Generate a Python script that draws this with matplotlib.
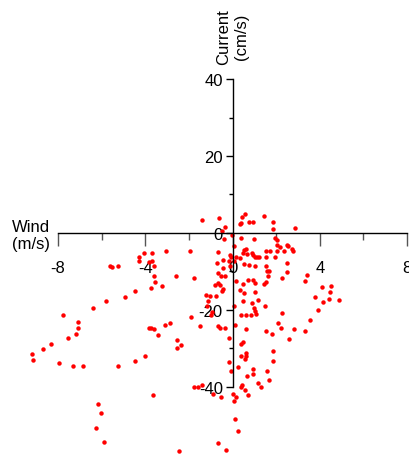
import matplotlib
matplotlib.use("Agg")
import matplotlib.pyplot as plt
from matplotlib.ticker import FixedLocator

plt.rcParams['font.family'] = ['Liberation Sans', 'DejaVu Sans']
plt.rcParams['axes.unicode_minus'] = False

# wind (m/s) vs current (cm/s)
wind = [
    -1.39, -0.61, -0.34, -0.46, 0.44, 0.57, 0.34, 0.37, 0.75, 0.95, 1.46, 1.87, 1.84, 2.85,
    -0.02, 0.41, 0.98, 1.93, 2.05, -0.40, 0.06,
    2.02, 2.18, 2.51, 2.54, 2.71, 2.77, 2.05, 2.36, 1.95,
    0.52, 0.63, 0.49, 0.67, 0.87, 0.93, 1.03, 1.10, 1.21, 1.52, 1.72, 1.52,
    -0.66, -0.12, -0.05, 0.14, 0.34, -0.18, 0.06,
    -1.93, -3.05, -4.05, -3.69, -4.29, -4.28, -3.85, -3.69, -3.62,
    -0.70, -0.44, -0.12, -0.43,
    0.52, 0.75, 1.01, 1.55,
    1.59, 1.67, 1.64, 1.55, 1.44, 2.48, 2.48, 2.28,
    -0.66, -0.35, -0.55,
    0.14, 0.48, 0.70, 0.93, 1.03, 0.32, 0.52, 1.03,
    -5.64, -5.53, -5.26,
    -3.62, -3.54, -3.72, -3.23, -4.46, -4.95, -5.79, -6.41, -7.75,
    -2.59, -1.75,
    3.33, 3.43,
    4.09, 4.51, 4.46, 4.17, 4.43, 4.89, 3.79, 3.94, 3.56, 3.33,
    -0.81, -0.67, -0.58, -0.44, -0.48,
    -1.20, -1.04, -0.74, -1.13, -1.16, -0.92, -0.97,
    1.15, 0.49, 0.90, 0.98, 1.03, 1.09, 1.47, 0.40, 0.60, 0.83, 0.09,
    2.28, 2.10, 2.24, 2.59, 2.82,
    1.55, 1.82, 1.87, 1.85, 1.59, 1.67, 1.32, 1.15,
    -1.90, -1.47, -0.66, -0.58, -0.35, -0.14, 0.11, 0.63,
    -3.85, -3.74, -3.62, -3.42, -3.11, -2.85,
    -2.54, -2.54, -2.38,
    -7.10, -7.07, -7.17, -7.56, -8.34, -8.67, -9.18, -9.13, -7.94, -7.30, -6.84, -5.23, -4.49, -4.03,
    0.48, 0.41, 0.37, 0.60, 0.63, 0.55,
    -0.14, -0.05, 0.26,
    0.93, 0.95, 0.67,
    0.43, 0.40, 0.57, 0.72,
    -1.78, -1.58, -1.39,
    -0.89, -0.55, 0.02, 0.14, 0.09,
    -3.63,
    -6.18, -6.02, -6.27, -5.87,
    -2.47, -0.67, -0.32,
    0.12, 0.25,
]
current = [
    3.4, 3.9, 1.6, 0.4, 4.2, 4.8, 2.3, 2.5, 2.8, 2.9, 4.4, 2.8, 1.0, 1.2,
    -0.6, -1.3, -1.6, -1.3, -1.7, -1.5, -3.5,
    -3.1, -3.6, -3.1, -3.5, -4.2, -4.8, -4.8, -4.8, -6.3,
    -4.3, -4.2, -5.3, -5.5, -5.3, -5.6, -6.3, -6.3, -6.3, -4.6, -4.8, -6.3,
    -5.0, -5.6, -6.3, -6.3, -6.6, -7.2, -7.4,
    -4.7, -4.8, -5.3, -5.3, -6.3, -7.4, -7.6, -7.4, -8.5,
    -7.9, -6.9, -8.5, -9.0,
    -8.1, -8.2, -8.5, -8.7,
    -9.8, -10.0, -11.1, -12.8, -13.2, -7.8, -10.2, -11.7,
    -10.4, -11.1, -11.1,
    -12.4, -13.2, -12.2, -12.2, -13.0, -14.7, -15.6, -15.4,
    -8.5, -8.9, -8.5,
    -11.1, -12.8, -14.4, -13.9, -15.2, -16.7, -17.7, -19.5, -21.3,
    -11.1, -11.7,
    -12.4, -10.8,
    -14.1, -13.7, -15.4, -18.0, -17.1, -17.3, -16.7, -20.1, -22.7, -25.4,
    -13.5, -13.0, -13.5, -14.5, -15.2,
    -16.0, -16.3, -16.3, -17.7, -19.0, -20.6, -21.2,
    -17.4, -17.6, -18.3, -19.6, -20.2, -21.0, -18.9, -21.3, -21.3, -21.3, -19.0,
    -20.9, -23.4, -24.7, -27.5, -24.9,
    -25.4, -26.2, -30.7, -33.4, -35.9, -38.2, -40.1, -39.0,
    -21.9, -24.1, -24.1, -24.7, -24.7, -27.4, -23.9, -24.9,
    -24.8, -24.8, -24.9, -26.4, -23.9, -23.5,
    -27.7, -29.9, -29.0,
    -23.2, -24.8, -26.2, -27.4, -28.8, -30.1, -31.4, -32.9, -33.9, -34.5, -34.7, -34.5, -33.4, -32.0,
    -28.4, -28.8, -31.9, -31.2, -31.9, -32.7,
    -33.6, -35.8, -34.9,
    -35.3, -36.6, -37.3,
    -39.4, -39.9, -40.8, -42.0,
    -39.9, -40.1, -39.5,
    -41.8, -42.7, -41.8, -42.5, -43.7,
    -42.0,
    -44.4, -46.8, -50.6, -54.2,
    -56.7, -54.5, -56.5,
    -48.3, -51.5,
]

x_major = [-8, -4, 0, 4, 8]
x_minor = [-6, -2, 2, 6]
y_major = [-40, -20, 0, 20, 40]
y_minor = [-30, -10, 10, 30]

fig = plt.figure(figsize=(4.09, 4.56), dpi=100)
ax = fig.add_axes([0, 0, 1, 1])
ax.patch.set_alpha(0)

ax.plot(wind, current, 'o', color='#ff0000', ms=3.2, mew=0)

ax.set_xlim(-10.66, 8.09)
ax.set_ylim(-57.7, 60.8)

# axes crossing at the origin
for side in ['top', 'right']:
    ax.spines[side].set_visible(False)
ax.spines['left'].set_position(('data', 0))
ax.spines['bottom'].set_position(('data', 0))
ax.spines['left'].set_bounds(-40, 40)
ax.spines['bottom'].set_bounds(-8, 8)
for side in ['left', 'bottom']:
    ax.spines[side].set_linewidth(1.0)

ax.xaxis.set_major_locator(FixedLocator(x_major))
ax.xaxis.set_minor_locator(FixedLocator(x_minor))
ax.yaxis.set_major_locator(FixedLocator(y_major))
ax.yaxis.set_minor_locator(FixedLocator(y_minor))
ax.set_xticklabels([str(v) for v in x_major])
ax.set_yticklabels([str(v) for v in y_major])

ax.tick_params(axis='x', which='major', direction='out', length=9.4, width=1.0,
               pad=10, labelsize=12, color='#555555')
ax.tick_params(axis='x', which='minor', direction='out', length=5, width=1.0, color='#555555')
ax.tick_params(axis='y', which='major', direction='out', length=5, width=1.0,
               pad=2, labelsize=12)
ax.tick_params(axis='y', which='minor', direction='out', length=3, width=1.0)

ax.text(0, 51.2, "Current\n(cm/s)", rotation=90, ha='center', va='center',
        multialignment='center', fontsize=12)
ax.text(-10.11, -0.5, "Wind\n(m/s)", ha='left', va='center', fontsize=12)

fig.savefig("out.png", dpi=100)
